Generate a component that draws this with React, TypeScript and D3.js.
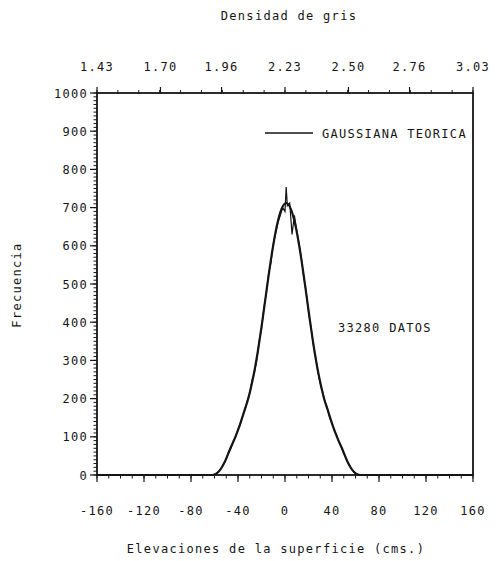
import React from "react";
import * as d3 from "d3";

const W = 500, H = 561;
const M = { left: 97, right: 473, top: 93, bottom: 475 };

// bottom axis (elevations, cm)
const xTicks = [-160, -120, -80, -40, 0, 40, 80, 120, 160];
const xTickLabels = ["-160", "-120", "-80", "-40", "0", "40", "80", "120", "160"];
// top axis (grey density)
const topTicks = [1.43, 1.70, 1.96, 2.23, 2.50, 2.76, 3.03];
const topTickLabels = ["1.43", "1.70", "1.96", "2.23", "2.50", "2.76", "3.03"];
// y axis
const yTicks = [0, 100, 200, 300, 400, 500, 600, 700, 800, 900, 1000];

// theoretical gaussian
const gaussX = [-160, -62, -60, -57, -54, -51, -47, -43, -39, -35, -31, -27, -23, -19, -15, -11, -7, -3, 1, 5, 9, 13, 17, 21, 25, 29, 33, 37, 41, 45, 49, 53, 56, 59, 62, 64, 160];
const gaussY = [0, 0, 1, 7, 19, 36, 66, 94, 126, 164, 203, 257, 326, 409, 499, 583, 652, 696, 712, 696, 652, 583, 499, 409, 326, 257, 203, 164, 126, 94, 66, 36, 19, 7, 1, 0, 0];

// observed histogram (33280 data)
const obsX = [-62, -60, -58, -56, -54, -52, -50, -48, -46, -44, -42, -40, -38, -36, -34, -32, -30, -28, -26, -24, -22, -20, -18, -16, -14, -12, -10, -8, -6, -4, -2, 0, 1, 2, 4, 6, 8, 10, 12, 14, 16, 18, 20, 22, 24, 26, 28, 30, 32, 34, 36, 38, 40, 42, 44, 46, 48, 50, 52, 54, 56, 58, 60, 62];
const obsY = [0, 1, 4, 11, 18, 31, 41, 60, 70, 89, 100, 120, 133, 156, 170, 196, 214, 248, 268, 302, 350, 382, 436, 474, 525, 556, 604, 632, 660, 680, 700, 690, 754, 705, 712, 630, 680, 640, 606, 566, 516, 480, 428, 390, 342, 310, 270, 240, 218, 192, 176, 150, 136, 116, 104, 85, 73, 56, 44, 29, 18, 10, 4, 0];

const FONT = "'DejaVu Sans Mono', 'Liberation Mono', monospace";
const INK = "#151515";

export default function App() {
  const x = d3.scaleLinear().domain([-160, 160]).range([M.left, M.right]);
  const xTop = d3.scaleLinear().domain([1.43, 3.03]).range([M.left, M.right]);
  const y = d3.scaleLinear().domain([0, 1000]).range([M.bottom, M.top]);

  const gaussLine = d3.line<number>()
    .x((_, i) => x(gaussX[i]))
    .y((d) => y(d))
    .curve(d3.curveMonotoneX)(gaussY) || "";
  const obsLine = d3.line<number>()
    .x((_, i) => x(obsX[i]))
    .y((d) => y(d))(obsY) || "";

  const xMinor = d3.range(-160, 161, 10);
  const yMinor = d3.range(0, 1001, 10);
  const topMinor = d3.range(0, 19).map((i) => 1.43 + (i * (3.03 - 1.43)) / 18);

  const txt = { fontFamily: FONT, fontSize: 12, fill: INK, letterSpacing: 1.3 } as const;

  return (
    <svg width={W} height={H} style={{ position: "absolute", left: 0, top: 0, background: "#fff" }}>
      {/* frame */}
      <rect x={M.left} y={M.top} width={M.right - M.left} height={M.bottom - M.top}
        fill="none" stroke={INK} strokeWidth={1.8} />

      {/* left axis ticks */}
      {yMinor.map((v) => (
        <line key={"ym" + v} x1={M.left - 3.5} x2={M.left} y1={y(v)} y2={y(v)} stroke={INK} strokeWidth={1} />
      ))}
      {yTicks.map((v) => (
        <g key={"y" + v}>
          <line x1={M.left - 7} x2={M.left} y1={y(v)} y2={y(v)} stroke={INK} strokeWidth={1.2} />
          <text x={M.left - 9} y={y(v) + 4.5} textAnchor="end" {...txt}>{String(v)}</text>
        </g>
      ))}

      {/* bottom axis ticks */}
      {xMinor.map((v) => (
        <line key={"xm" + v} x1={x(v)} x2={x(v)} y1={M.bottom} y2={M.bottom + 3.5} stroke={INK} strokeWidth={1} />
      ))}
      {xTicks.map((v, i) => (
        <g key={"x" + v}>
          <line x1={x(v)} x2={x(v)} y1={M.bottom} y2={M.bottom + 7} stroke={INK} strokeWidth={1.2} />
          <text x={x(v)} y={M.bottom + 40} textAnchor="middle" {...txt}>{xTickLabels[i]}</text>
        </g>
      ))}

      {/* top axis ticks */}
      {topMinor.map((v, i) => (
        <line key={"tm" + i} x1={xTop(v)} x2={xTop(v)} y1={M.top} y2={M.top - 3} stroke={INK} strokeWidth={1} />
      ))}
      {topTicks.map((v, i) => (
        <g key={"t" + v}>
          <line x1={xTop(v)} x2={xTop(v)} y1={M.top} y2={M.top - 6} stroke={INK} strokeWidth={1.2} />
          <text x={xTop(v)} y={M.top - 22} textAnchor="middle" {...txt}>{topTickLabels[i]}</text>
        </g>
      ))}

      {/* curves */}
      <path d={gaussLine} fill="none" stroke={INK} strokeWidth={2.2} />
      <path d={obsLine} fill="none" stroke={INK} strokeWidth={1.2} />

      {/* legend */}
      <line x1={265} x2={313} y1={133} y2={133} stroke={INK} strokeWidth={1.5} />
      <text x={322} y={138} {...txt}>GAUSSIANA TEORICA</text>
      <text x={338} y={332} {...txt}>33280 DATOS</text>

      {/* axis titles */}
      <text x={289} y={20} textAnchor="middle" {...txt}>Densidad de gris</text>
      <text x={276} y={553} textAnchor="middle" {...txt}>Elevaciones de la superficie (cms.)</text>
      <text transform="translate(21,285) rotate(-90)" textAnchor="middle" {...txt}>Frecuencia</text>
    </svg>
  );
}
